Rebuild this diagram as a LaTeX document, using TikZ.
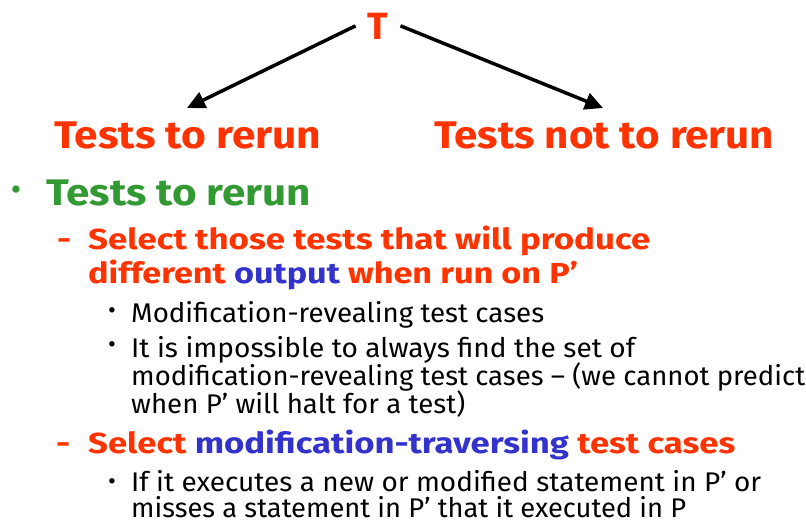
\documentclass[tikz,border=0pt]{standalone}
\usepackage{fontspec}
\setmainfont{Fira Sans}
\usetikzlibrary{arrows.meta}
\definecolor{hred}{HTML}{FF3300}
\definecolor{hgreen}{HTML}{339933}
\definecolor{hblue}{HTML}{3333CC}
\newcommand\fitto[2]{\resizebox{#1}{\height}{#2}}
\begin{document}
\begin{tikzpicture}[x=1pt,y=-1pt,
  hd/.style={anchor=base west, inner sep=0, font=\fontsize{38.5}{40}\selectfont\bfseries, text=hred},
  sub/.style={anchor=base west, inner sep=0, font=\fontsize{29}{31}\selectfont\bfseries, text=hred},
  body/.style={anchor=base west, inner sep=0, font=\fontsize{27}{29}\selectfont, text=black},
  bul/.style={inner sep=0, font=\fontsize{24}{24}\selectfont},
  arr/.style={line width=3.5pt, -{Triangle[length=18pt,width=17pt]}}]
\path[use as bounding box] (0,0) rectangle (806,523);
% top tree
\node[font=\fontsize{38}{40}\selectfont\bfseries, text=hred, inner xsep=12pt, inner ysep=0, anchor=base] (T) at (378,39) {T};
\coordinate (lt) at (187,108);
\coordinate (rt) at (603,108);
\draw[arr] (T.west) -- (lt);
\draw[arr] (T.east) -- (rt);
\node[hd] (L) at (54,148) {\fitto{267pt}{Tests to rerun}};
\node[hd] (R) at (434,148) {\fitto{340pt}{Tests not to rerun}};
% green bullet
\node[bul, font=\fontsize{32}{32}\selectfont, text=hgreen] (b0) at (16,193) {•};
\node[hd, font=\fontsize{37}{40}\selectfont\bfseries, text=hgreen] (g) at (46,205) {\fitto{265pt}{Tests to rerun}};
% first sub item
\node[sub] (d1) at (58,249) {\fitto{12pt}{–}};
\node[sub] (s1a) at (88,249) {\fitto{562pt}{Select those tests that will produce}};
\node[sub] (s1b) at (88,283) {\fitto{490pt}{different \textcolor{hblue}{output} when run on P’}};
\node[bul] (b1) at (112,313) {•};
\node[body] (m1) at (131,322) {\fitto{413pt}{Modification-revealing test cases}};
\node[bul] (b2) at (112,347) {•};
\node[body] (m2a) at (131,357) {\fitto{504pt}{It is impossible to always find the set of}};
\node[body] (m2b) at (131,385) {\fitto{674pt}{modification-revealing test cases – (we cannot predict}};
\node[body] (m2c) at (131,413) {\fitto{334pt}{when P’ will halt for a test)}};
% second sub item
\node[sub] (d2) at (57,453) {\fitto{12pt}{–}};
\node[sub] (s2) at (88,453) {\fitto{647pt}{Select \textcolor{hblue}{modification-traversing} test cases}};
\node[bul] (b3) at (112,484) {•};
\node[body] (m3a) at (131,491) {\fitto{630pt}{If it executes a new or modified statement in P’ or}};
\node[body] (m3b) at (131,517) {\fitto{555pt}{misses a statement in P’ that it executed in P}};
\end{tikzpicture}
\end{document}
